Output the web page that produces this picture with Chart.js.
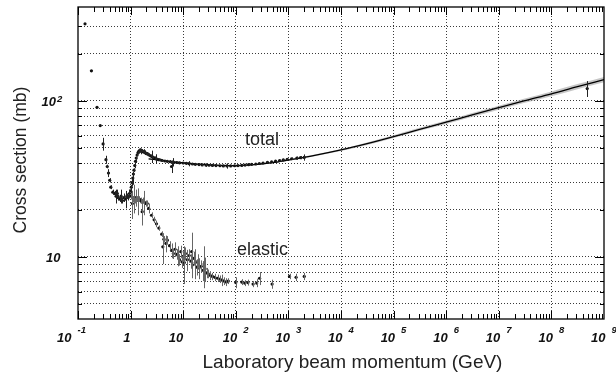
<!DOCTYPE html>
<html>
<head>
<meta charset="utf-8">
<script src="https://cdn.jsdelivr.net/npm/chart.js@4"></script>
<style>
  html, body { margin: 0; padding: 0; background: #fff; }
  canvas { display: block; }
</style>
</head>
<body>
<canvas id="chart" width="616" height="379"></canvas>
<script>
// pp total cross section vs laboratory momentum (GeV, mb)
const totalP = [0.136, 0.18, 0.23, 0.265, 0.30, 0.34, 0.36, 0.38, 0.40, 0.42, 0.46, 0.50, 0.53, 0.56, 0.58,
  0.62, 0.66, 0.70, 0.75, 0.80, 0.85, 0.90, 0.95, 1.00, 1.03, 1.06, 1.10, 1.13, 1.16, 1.20, 1.24, 1.28,
  1.33, 1.38, 1.43, 1.48, 1.53, 1.58, 1.64, 1.70, 1.76, 1.83, 1.90, 1.98, 2.06, 2.15, 2.25, 2.4, 2.55,
  2.7, 2.9, 3.1, 3.4, 3.7, 4.0, 4.5, 5.0, 5.7, 6.0, 6.5, 7.5, 8.5, 10, 11.5, 13, 15, 17, 20, 23, 27, 31,
  36, 42, 50, 58, 68, 80, 95, 110, 130, 150, 175, 200, 240, 280, 330, 400, 480, 570, 680, 800, 950,
  1150, 1450, 1700, 2000, 4.8e8];
const totalSigma = [312, 156, 91, 69.5, 53, 42, 38, 34.5, 31, 28, 26, 25.5, 24.5, 25.5, 24,
  23.5, 24.5, 23, 24, 23.5, 24.5, 24, 25.5, 26.5, 28, 30, 32, 34, 36, 38.5, 41, 43,
  45, 46.5, 47.5, 48, 48.5, 47.5, 48, 47.5, 47, 47.5, 46.5, 46, 46, 45.5, 45, 44.5, 44,
  43.5, 43, 42.5, 42, 41.8, 41.5, 41.2, 41, 40.8, 38, 40.5, 40.3, 40.1, 40, 39.8, 39.6, 39.4, 39.2, 39.1, 38.9, 38.8, 38.7,
  38.6, 38.5, 38.4, 38.3, 38.3, 38.3, 38.4, 38.5, 38.6, 38.8, 39, 39.2, 39.4, 39.7, 40, 40.4, 40.7, 41.1, 41.5, 41.9, 42.2,
  42.6, 43, 43.3, 43.4, 120];
const totalErr = [0, 0, 0, 0, 5, 2.5, 1, 2, 1, 0.8, 1, 1, 2.5, 1.5, 1,
  1, 2.5, 1, 1.5, 3, 1, 1, 1.5, 1, 1, 1.5, 3, 1, 1, 1.5, 1, 1,
  1, 1, 1.5, 1, 1, 2, 1, 1, 1, 1.5, 1, 1, 1, 1, 1, 0.8, 4,
  0.8, 1, 3, 0.8, 0.7, 0.8, 0.6, 0.6, 0.6, 3.5, 2.5, 0.5, 0.5, 0.5, 0.5, 1.5, 0.5, 0.5, 0.5, 0.5, 1, 0.4,
  0.4, 0.4, 0.4, 0.4, 1.5, 0.4, 0.4, 0.4, 0.4, 0.4, 0.4, 0.4, 0.4, 0.4, 0.4, 0.5, 0.5, 0.5, 0.5, 0.6, 0.6,
  0.8, 1, 1, 2, 14];

// pp elastic cross section above the inelastic threshold
const elasticP = [1.03, 1.08, 1.12, 1.17, 1.22, 1.28, 1.34, 1.40, 1.47, 1.55, 1.63, 1.66, 1.72, 1.82, 1.95,
  2.07, 2.2, 2.5, 2.8, 3.1, 3.44, 3.9, 4.1, 4.3, 4.7, 5.0, 5.5, 6.0, 6.5, 7.0, 7.5, 8.0, 8.5, 9.0, 9.5,
  10, 10.5, 11, 12, 13, 14, 14.5, 15, 16, 17, 18, 19, 20, 22, 24, 25, 26, 28, 30, 33, 36, 40, 45, 50,
  55, 60, 66, 72, 100, 130, 148, 170, 213, 250, 283, 490, 1050, 1400, 2000];
const elasticSigma = [24.5, 22, 23.5, 24, 23, 24, 23.5, 23, 23.5, 23, 22.5, 19.5, 23, 22.5, 22,
  22, 20.5, 18.5, 17.3, 16.3, 15.3, 14, 11.6, 13, 12.2, 12.8, 11.8, 11, 10.5, 11.2, 10.4, 10.2, 9.6, 10.8, 9.3,
  10.1, 9.2, 10.5, 9.6, 10.2, 9.4, 10.8, 8.9, 9.8, 9.2, 8.6, 9.4, 8.5, 8.7, 8.2, 9.0, 8.4, 7.9, 7.8, 7.6, 7.5, 7.4, 7.3, 7.2,
  7.1, 7.0, 6.9, 7.0, 6.85, 6.9, 6.8, 6.85, 6.7, 6.8, 7.3, 6.7, 7.5, 7.4, 7.5];
const elasticErr = [1, 4.5, 1, 5, 1, 3, 1, 4.5, 1, 1, 1, 3.6, 1, 4, 1,
  1, 1.5, 0.8, 0.8, 0.8, 0.6, 0.6, 2.6, 0.6, 1.5, 0.8, 0.8, 1.2, 0.8, 1.2, 0.8, 1.5, 0.8, 1, 0.8,
  0.8, 2.5, 1, 1.5, 1, 1, 3.5, 1, 1, 2, 1, 1, 1.3, 0.8, 1.2, 2.7, 1.5, 0.6, 0.5, 0.5, 0.4, 0.4, 0.4, 0.4,
  0.6, 0.4, 0.4, 0.3, 0.55, 0.3, 0.3, 0.3, 0.3, 0.4, 0.7, 0.45, 0.3, 0.4, 0.4];

// high-energy fit to the total cross section, with its relative uncertainty band
const fitP = [2.2, 3, 5, 10, 20, 50, 100, 200, 500, 1e3, 3e3, 1e4, 3e4, 1e5, 3e5, 1e6, 3e6, 1e7, 3e7, 1e8, 3e8, 1e9];
const fitSigma = [42.5, 42, 41, 40.1, 39.3, 38.6, 38.4, 38.9, 40.2, 41.8, 44.6, 48.5, 53, 59, 65.5, 73, 81, 90.5, 100, 111, 123, 137];
const fitBand = [0.005, 0.005, 0.005, 0.005, 0.005, 0.005, 0.005, 0.006, 0.008, 0.01, 0.012, 0.015, 0.018, 0.02,
  0.022, 0.025, 0.028, 0.03, 0.032, 0.035, 0.038, 0.04];

// axes
const xExponents = [-1, 0, 1, 2, 3, 4, 5, 6, 7, 8, 9];
const yGrid = [5, 6, 7, 8, 9, 10, 20, 30, 40, 50, 60, 70, 80, 90, 100, 200, 300];
const yMajor = [10, 100];

const points = (xs, ys) => xs.map((x, i) => ({ x, y: ys[i] }));

const LABEL_FONT = 'bold italic 13px "Liberation Sans", Arial, sans-serif';
const EXP_FONT = 'bold italic 9.5px "Liberation Sans", Arial, sans-serif';

const decor = {
  id: 'decor',
  afterDatasetsDraw(chart) {
    const { ctx, scales: { x, y } } = chart;
    ctx.save();
    ctx.lineWidth = 1;
    chart.data.datasets.forEach(ds => {
      if (!ds.errors) return;
      ctx.strokeStyle = ds.errorColor;
      ctx.beginPath();
      ds.data.forEach((pt, i) => {
        const e = ds.errors[i];
        if (!e) return;
        const px = Math.round(x.getPixelForValue(pt.x)) + 0.5;
        ctx.moveTo(px, y.getPixelForValue(pt.y + e));
        ctx.lineTo(px, y.getPixelForValue(Math.max(pt.y - e, 0.1)));
      });
      ctx.stroke();
    });
    ctx.restore();
  },
  afterDraw(chart) {
    const { ctx, chartArea: a, scales: { x, y } } = chart;
    ctx.save();
    ctx.strokeStyle = '#000';
    ctx.lineWidth = 1;
    ctx.beginPath();
    // inward ticks on the momentum axis, top and bottom
    xExponents.slice(0, -1).forEach(e => {
      for (let m = 1; m <= 9; m++) {
        const px = Math.round(x.getPixelForValue(m * Math.pow(10, e))) + 0.5;
        const len = m === 1 ? 8 : 5;
        ctx.moveTo(px, a.bottom); ctx.lineTo(px, a.bottom - len);
        ctx.moveTo(px, a.top); ctx.lineTo(px, a.top + len);
      }
    });
    // inward ticks on the cross-section axis, left and right
    yGrid.forEach(v => {
      const py = Math.round(y.getPixelForValue(v)) + 0.5;
      const len = yMajor.includes(v) ? 9 : 4;
      ctx.moveTo(a.left, py); ctx.lineTo(a.left + len, py);
      ctx.moveTo(a.right, py); ctx.lineTo(a.right - len, py);
    });
    ctx.stroke();

    ctx.lineWidth = 1.3;
    ctx.strokeRect(a.left, a.top, a.right - a.left, a.bottom - a.top);

    // tick labels
    ctx.fillStyle = '#111';
    ctx.textBaseline = 'alphabetic';
    xExponents.forEach(e => {
      const px = x.getPixelForValue(Math.pow(10, e));
      ctx.font = LABEL_FONT;
      ctx.textAlign = 'right';
      if (e === 0) { ctx.fillText('1', px, 342); return; }
      if (e === 1) { ctx.fillText('10', px, 342); return; }
      const shift = e < 0 ? -6.5 : 1.5;
      ctx.fillText('10', px + shift, 342);
      ctx.font = EXP_FONT;
      ctx.textAlign = 'left';
      ctx.fillText(String(e), px + shift + 6, 333);
    });
    ctx.font = LABEL_FONT;
    ctx.textAlign = 'right';
    ctx.fillText('10', 60.5, y.getPixelForValue(10) + 5);
    ctx.fillText('10', 56, y.getPixelForValue(100) + 5.5);
    ctx.font = EXP_FONT;
    ctx.textAlign = 'left';
    ctx.fillText('2', 57, y.getPixelForValue(100) + 1);

    // axis titles
    ctx.fillStyle = '#222';
    ctx.font = '19px "Liberation Sans", Arial, sans-serif';
    ctx.textAlign = 'center';
    ctx.fillText('Laboratory beam momentum (GeV)', 352.5, 368);
    ctx.save();
    ctx.translate(26, 160);
    ctx.rotate(-Math.PI / 2);
    ctx.font = '17.5px "Liberation Sans", Arial, sans-serif';
    ctx.fillText('Cross section (mb)', 0, 0);
    ctx.restore();

    // curve labels
    ctx.font = '18px "Liberation Sans", Arial, sans-serif';
    ctx.textAlign = 'left';
    ctx.fillText('total', 245, 145);
    ctx.fillText('elastic', 237, 255);
    ctx.restore();
  }
};

// datasets listed front to back: Chart.js paints the first one on top
new Chart(document.getElementById('chart'), {
  type: 'scatter',
  data: {
    datasets: [
      {
        data: points(totalP, totalSigma),
        errors: totalErr, errorColor: '#222',
        pointRadius: 1.6, borderWidth: 0, backgroundColor: '#111'
      },
      {
        data: points(elasticP, elasticSigma),
        errors: elasticErr, errorColor: '#666',
        pointRadius: 1.6, borderWidth: 0, backgroundColor: '#111'
      },
      {
        data: points(fitP, fitSigma),
        showLine: true, borderColor: '#000', borderWidth: 1.3, pointRadius: 0,
        cubicInterpolationMode: 'monotone'
      },
      {
        data: points(fitP, fitSigma.map((s, i) => s * (1 + fitBand[i]))),
        showLine: true, borderWidth: 0, pointRadius: 0, fill: '+1',
        backgroundColor: 'rgba(160,160,160,0.6)',
        cubicInterpolationMode: 'monotone'
      },
      {
        data: points(fitP, fitSigma.map((s, i) => s * (1 - fitBand[i]))),
        showLine: true, borderWidth: 0, pointRadius: 0, fill: false,
        cubicInterpolationMode: 'monotone'
      }
    ]
  },
  options: {
    responsive: false,
    animation: false,
    devicePixelRatio: 1,
    layout: { padding: { left: 78, right: 12, top: 7, bottom: 60 } },
    plugins: { legend: { display: false }, tooltip: { enabled: false } },
    scales: {
      x: {
        type: 'logarithmic', min: 0.1, max: 1e9,
        afterBuildTicks: s => { s.ticks = xExponents.slice(1, -1).map(e => ({ value: Math.pow(10, e) })); },
        ticks: { display: false },
        grid: { color: '#3a3a3a', lineWidth: 1, drawTicks: false },
        border: { display: false, dash: [1, 2] }
      },
      y: {
        type: 'logarithmic', min: 4, max: 400,
        afterBuildTicks: s => { s.ticks = yGrid.map(v => ({ value: v })); },
        ticks: { display: false },
        grid: { color: '#3a3a3a', lineWidth: 1, drawTicks: false },
        border: { display: false, dash: [1, 2] }
      }
    }
  },
  plugins: [decor]
});
</script>
</body>
</html>
